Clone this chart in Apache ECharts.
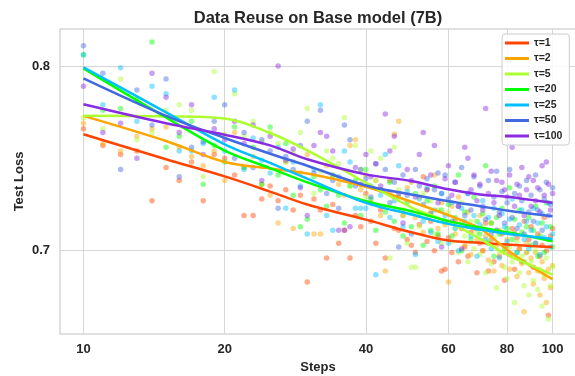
<!DOCTYPE html>
<html><head><meta charset="utf-8">
<script src="https://cdn.jsdelivr.net/npm/echarts@6/dist/echarts.min.js"></script>
<style>html,body{margin:0;padding:0;background:#fff}#c{width:575px;height:376px}</style>
</head><body><div id="c"></div>
<script>
// ---- data ----
const seriesNames = ['τ=1', 'τ=2', 'τ=5', 'τ=20', 'τ=25', 'τ=50', 'τ=100'];
const steps = [10,11,12,13,14,15,16,17,18,19,20,21,22,23,24,25,26,27,28,29,30,31,32,33,34,35,36,37,38,39,40,41,42,43,44,45,46,47,48,49,50,51,52,53,54,55,56,57,58,59,60,61,62,63,64,65,66,67,68,69,70,71,72,73,74,75,76,77,78,79,80,81,82,83,84,85,86,87,88,89,90,91,92,93,94,95,96,97,98,99,100];
const xTicks = [10, 20, 40, 60, 80, 100];
const yTicks = [0.7, 0.8];
const fitSteps = [10, 15, 20, 25, 30, 40, 50, 60, 70, 80, 90, 100];

const fit_t1   = [0.763, 0.7495, 0.7402, 0.732, 0.725, 0.7168, 0.710, 0.7055, 0.7043, 0.7033, 0.7025, 0.702];
const fit_t2   = [0.773, 0.7594, 0.748, 0.7445, 0.7418, 0.7346, 0.7265, 0.7192, 0.712, 0.7005, 0.6915, 0.6846];
const fit_t5   = [0.773, 0.7727, 0.7716, 0.7637, 0.7543, 0.7368, 0.7235, 0.7155, 0.7065, 0.6978, 0.692, 0.687];
const fit_t20  = [0.7987, 0.7721, 0.7542, 0.7447, 0.737, 0.7268, 0.7214, 0.716, 0.7125, 0.71, 0.7075, 0.7051];
const fit_t25  = [0.7993, 0.7749, 0.7576, 0.7475, 0.739, 0.7259, 0.7196, 0.7145, 0.7115, 0.7092, 0.7077, 0.7063];
const fit_t50  = [0.7933, 0.773, 0.761, 0.7525, 0.746, 0.7353, 0.7304, 0.7268, 0.7241, 0.7217, 0.72, 0.7187];
const fit_t100 = [0.7793, 0.769, 0.7628, 0.757, 0.7495, 0.7413, 0.7377, 0.7332, 0.7304, 0.7292, 0.7275, 0.7259];

const pts_t1 = [
 0.766, 0.757, 0.752, 0.754, 0.727, 0.745, 0.738, 0.748, 0.727, 0.752,
 0.750, 0.741, 0.719, 0.719, 0.728, 0.735, 0.727, 0.733, 0.722, 0.730,
 0.683, 0.728, 0.722, 0.696, 0.725, 0.704, 0.711, 0.696, 0.719, 0.713,
 0.731, 0.716, 0.704, 0.722, 0.696, 0.738, 0.712, 0.711, 0.719, 0.706,
 0.703, 0.699, 0.714, 0.740, 0.705, 0.716, 0.700, 0.708, 0.689, 0.690,
 0.707, 0.699, 0.716, 0.694, 0.712, 0.702, 0.697, 0.710, 0.713, 0.688,
 0.704, 0.700, 0.715, 0.689, 0.706, 0.694, 0.711, 0.697, 0.709, 0.684,
 0.703, 0.698, 0.712, 0.690, 0.707, 0.701, 0.694, 0.716, 0.699, 0.706,
 0.713, 0.691, 0.704, 0.709, 0.697, 0.703, 0.718, 0.700, 0.665, 0.708,
 0.712];
const pts_t2 = [
 0.769, 0.758, 0.754, 0.762, 0.766, 0.767, 0.756, 0.751, 0.746, 0.754,
 0.738, 0.764, 0.745, 0.751, 0.736, 0.730, 0.715, 0.748, 0.712, 0.742,
 0.752, 0.709, 0.709, 0.746, 0.740, 0.736, 0.730, 0.757, 0.760, 0.733,
 0.741, 0.726, 0.738, 0.719, 0.689, 0.731, 0.763, 0.770, 0.722, 0.734,
 0.737, 0.718, 0.729, 0.710, 0.733, 0.721, 0.741, 0.712, 0.726, 0.714,
 0.683, 0.724, 0.709, 0.729, 0.716, 0.703, 0.721, 0.698, 0.712, 0.706,
 0.719, 0.700, 0.708, 0.695, 0.715, 0.689, 0.703, 0.711, 0.692, 0.699,
 0.706, 0.690, 0.697, 0.710, 0.686, 0.701, 0.693, 0.667, 0.704, 0.688,
 0.696, 0.682, 0.699, 0.689, 0.676, 0.694, 0.685, 0.672, 0.690, 0.680,
 0.692];
const pts_t5 = [
 0.772, 0.766, 0.793, 0.760, 0.764, 0.776, 0.779, 0.776, 0.740, 0.797,
 0.763, 0.785, 0.762, 0.770, 0.759, 0.764, 0.758, 0.748, 0.753, 0.764,
 0.777, 0.731, 0.743, 0.754, 0.750, 0.747, 0.772, 0.735, 0.757, 0.744,
 0.729, 0.754, 0.738, 0.750, 0.724, 0.696, 0.756, 0.733, 0.719, 0.704,
 0.691, 0.691, 0.713, 0.731, 0.718, 0.727, 0.709, 0.722, 0.704, 0.715,
 0.721, 0.705, 0.712, 0.699, 0.726, 0.708, 0.694, 0.716, 0.701, 0.710,
 0.698, 0.713, 0.688, 0.705, 0.693, 0.707, 0.680, 0.699, 0.710, 0.691,
 0.685, 0.702, 0.694, 0.672, 0.705, 0.688, 0.697, 0.681, 0.699, 0.676,
 0.694, 0.684, 0.700, 0.679, 0.690, 0.670, 0.687, 0.696, 0.663, 0.681,
 0.691];
const pts_t20 = [
 0.806, 0.776, 0.777, 0.782, 0.813, 0.756, 0.762, 0.770, 0.736, 0.757,
 0.748, 0.767, 0.745, 0.756, 0.736, 0.767, 0.741, 0.758, 0.730, 0.713,
 0.717, 0.740, 0.733, 0.724, 0.741, 0.730, 0.715, 0.735, 0.738, 0.719,
 0.744, 0.728, 0.711, 0.733, 0.721, 0.737, 0.716, 0.729, 0.708, 0.726,
 0.713, 0.731, 0.720, 0.703, 0.727, 0.711, 0.735, 0.709, 0.722, 0.716,
 0.725, 0.708, 0.718, 0.741, 0.700, 0.721, 0.713, 0.706, 0.729, 0.716,
 0.709, 0.720, 0.746, 0.704, 0.715, 0.697, 0.718, 0.709, 0.723, 0.701,
 0.712, 0.734, 0.706, 0.717, 0.699, 0.722, 0.710, 0.694, 0.713, 0.718,
 0.703, 0.711, 0.724, 0.697, 0.708, 0.715, 0.699, 0.726, 0.706, 0.713,
 0.702];
const pts_t25 = [
 0.806, 0.779, 0.799, 0.770, 0.789, 0.785, 0.754, 0.754, 0.758, 0.783,
 0.754, 0.787, 0.744, 0.761, 0.749, 0.742, 0.756, 0.723, 0.748, 0.735,
 0.709, 0.744, 0.779, 0.719, 0.711, 0.740, 0.754, 0.748, 0.723, 0.723,
 0.723, 0.735, 0.687, 0.730, 0.752, 0.718, 0.727, 0.746, 0.713, 0.732,
 0.721, 0.698, 0.728, 0.716, 0.734, 0.710, 0.722, 0.705, 0.731, 0.719,
 0.704, 0.726, 0.712, 0.700, 0.723, 0.716, 0.731, 0.708, 0.719, 0.697,
 0.714, 0.727, 0.706, 0.718, 0.701, 0.723, 0.711, 0.696, 0.720, 0.713,
 0.705, 0.717, 0.728, 0.709, 0.699, 0.714, 0.722, 0.706, 0.716, 0.701,
 0.711, 0.723, 0.704, 0.715, 0.698, 0.720, 0.707, 0.713, 0.726, 0.702,
 0.709];
const pts_t50 = [
 0.811, 0.796, 0.744, 0.787, 0.768, 0.793, 0.740, 0.756, 0.759, 0.770,
 0.779, 0.750, 0.764, 0.745, 0.760, 0.754, 0.723, 0.751, 0.744, 0.757,
 0.770, 0.742, 0.776, 0.731, 0.738, 0.723, 0.768, 0.760, 0.735, 0.744,
 0.739, 0.729, 0.747, 0.733, 0.744, 0.726, 0.737, 0.702, 0.741, 0.730,
 0.709, 0.744, 0.735, 0.725, 0.739, 0.720, 0.733, 0.742, 0.731, 0.741,
 0.728, 0.716, 0.737, 0.724, 0.745, 0.719, 0.731, 0.722, 0.740, 0.712,
 0.735, 0.724, 0.717, 0.738, 0.709, 0.729, 0.743, 0.721, 0.732, 0.715,
 0.726, 0.744, 0.718, 0.731, 0.712, 0.735, 0.727, 0.709, 0.738, 0.721,
 0.730, 0.716, 0.741, 0.722, 0.733, 0.711, 0.728, 0.737, 0.719, 0.725,
 0.734];
const pts_t100 = [
 0.789, 0.764, 0.769, 0.750, 0.796, 0.783, 0.764, 0.779, 0.752, 0.766,
 0.760, 0.770, 0.758, 0.768, 0.738, 0.762, 0.800, 0.749, 0.755, 0.734,
 0.719, 0.757, 0.764, 0.762, 0.754, 0.711, 0.711, 0.713, 0.745, 0.736,
 0.752, 0.740, 0.747, 0.735, 0.774, 0.754, 0.762, 0.731, 0.715, 0.744,
 0.738, 0.729, 0.752, 0.764, 0.733, 0.741, 0.757, 0.726, 0.702, 0.739,
 0.746, 0.730, 0.737, 0.724, 0.701, 0.756, 0.750, 0.733, 0.741, 0.727,
 0.736, 0.722, 0.777, 0.731, 0.743, 0.726, 0.738, 0.719, 0.737, 0.733,
 0.729, 0.741, 0.756, 0.724, 0.736, 0.730, 0.745, 0.719, 0.733, 0.740,
 0.724, 0.738, 0.727, 0.734, 0.721, 0.746, 0.730, 0.748, 0.736, 0.722,
 0.731];

const colors = ['#FF4500', '#FFA500', '#ADFF2F', '#00FF00', '#00BFFF', '#4169E1', '#8A2BE2'];

// ---- build ----
const fits = [fit_t1, fit_t2, fit_t5, fit_t20, fit_t25, fit_t50, fit_t100];
const pts = [pts_t1, pts_t2, pts_t5, pts_t20, pts_t25, pts_t50, pts_t100];
const lg = v => Math.log10(v);
const FONT = '"Liberation Sans", Arial, sans-serif';
const TXT = '#262626';

const series = [];
pts.forEach((arr, k) => {
  series.push({
    name: seriesNames[k] + ' pts', type: 'scatter', z: 2,
    symbolSize: 5.5, silent: true,
    itemStyle: { color: colors[k], opacity: 0.45 },
    data: steps.map((s, i) => [lg(s), arr[i]])
  });
});
fits.forEach((arr, k) => {
  series.push({
    name: seriesNames[k], type: 'line', z: 3, smooth: 0.35,
    showSymbol: false, symbol: 'none',
    lineStyle: { color: colors[k], width: 2.5 },
    itemStyle: { color: colors[k] },
    data: fitSteps.map((s, i) => [lg(s), arr[i]])
  });
});

const chart = echarts.init(document.getElementById('c'), null, { renderer: 'canvas' });
chart.setOption({
  animation: false,
  backgroundColor: '#fff',
  title: {
    text: 'Data Reuse on Base model (7B)', left: 313, top: 5, textAlign: 'center',
    textStyle: { fontFamily: FONT, fontSize: 16.5, fontWeight: 'bold', color: TXT }
  },
  legend: {
    data: seriesNames, orient: 'vertical', left: 502, top: 34,
    padding: [3, 7, 3, 3], itemGap: 3.5, itemWidth: 24, itemHeight: 3, icon: 'rect',
    borderColor: '#cccccc', borderWidth: 1, borderRadius: 3,
    backgroundColor: 'rgba(255,255,255,0.85)',
    textStyle: { fontFamily: FONT, fontSize: 10.5, fontWeight: 'bold', color: TXT, lineHeight: 12 }
  },
  grid: {
    left: 60, top: 29, width: 516, height: 305, show: true,
    outerBoundsMode: 'none', containLabel: false,
    borderColor: '#d6d6d6', borderWidth: 1.5, backgroundColor: 'transparent'
  },
  xAxis: {
    type: 'value', min: 0.95, max: 2.05,
    name: 'Steps', nameLocation: 'middle', nameGap: 27, nameMoveOverlap: false,
    nameTextStyle: { fontFamily: FONT, fontSize: 13, fontWeight: 'bold', color: TXT },
    axisLine: { show: false },
    axisTick: { show: false, customValues: xTicks.map(lg) },
    axisLabel: {
      customValues: xTicks.map(lg), margin: 9,
      formatter: v => String(Math.round(Math.pow(10, v))),
      fontFamily: FONT, fontSize: 13, fontWeight: 'bold', color: TXT
    },
    splitLine: { show: true, lineStyle: { color: '#d6d6d6', width: 1 } }
  },
  yAxis: {
    type: 'value', min: 0.6549, max: 0.8200,
    name: 'Test Loss', nameLocation: 'middle', nameGap: 34, nameMoveOverlap: false,
    nameTextStyle: { fontFamily: FONT, fontSize: 13, fontWeight: 'bold', color: TXT },
    axisLine: { show: false },
    axisTick: { show: false, customValues: yTicks },
    axisLabel: {
      customValues: yTicks, margin: 10,
      formatter: v => v.toFixed(1),
      fontFamily: FONT, fontSize: 13, fontWeight: 'bold', color: TXT
    },
    splitLine: { show: true, lineStyle: { color: '#d6d6d6', width: 1 } }
  },
  series: series
});
</script>
</body></html>
